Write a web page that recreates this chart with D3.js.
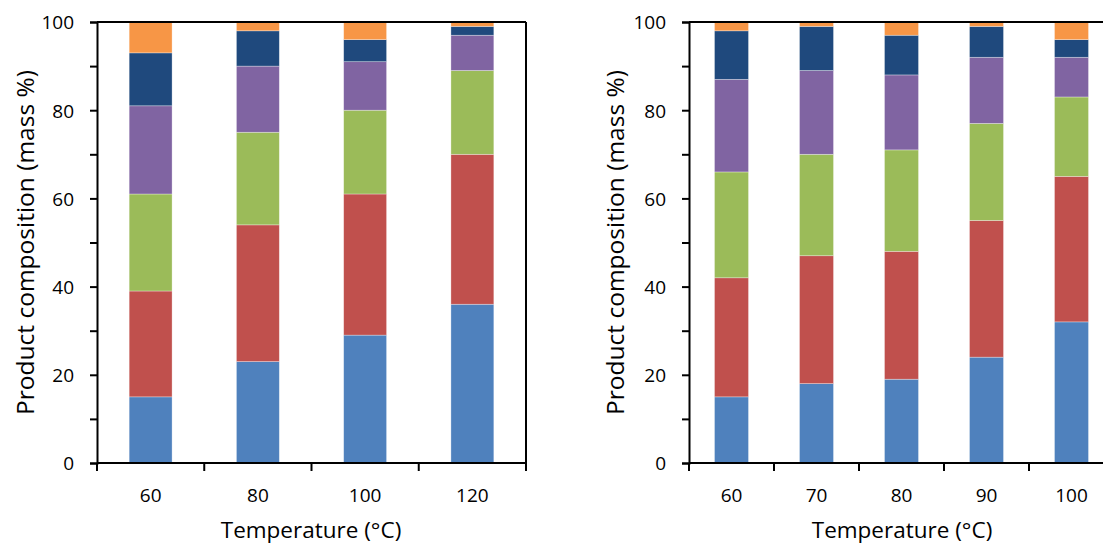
<!DOCTYPE html>
<html>
<head>
<meta charset="utf-8">
<script src="https://cdn.jsdelivr.net/npm/d3@7"></script>
<style>
  html, body { margin: 0; padding: 0; background: #fff; }
  svg { display: block; }
  text { font-family: "Open Sans", sans-serif; fill: #000; }
</style>
</head>
<body>
<svg id="chart" width="1103" height="545"></svg>
<script>
// ---- Data (mass %) ----
const seriesNames = ["Component 1", "Component 2", "Component 3", "Component 4", "Component 5", "Component 6"];
const seriesColors = ["#4F81BD", "#C0504D", "#9BBB59", "#8064A2", "#1F497D", "#F79646"];

const leftTemps = ["60", "80", "100", "120"];
const leftSeries1 = [15, 23, 29, 36];
const leftSeries2 = [24, 31, 32, 34];
const leftSeries3 = [22, 21, 19, 19];
const leftSeries4 = [20, 15, 11, 8];
const leftSeries5 = [12, 8, 5, 2];
const leftSeries6 = [7, 2, 4, 1];

const rightTemps = ["60", "70", "80", "90", "100"];
const rightSeries1 = [15, 18, 19, 24, 32];
const rightSeries2 = [27, 29, 29, 31, 33];
const rightSeries3 = [24, 23, 23, 22, 18];
const rightSeries4 = [21, 19, 17, 15, 9];
const rightSeries5 = [11, 10, 9, 7, 4];
const rightSeries6 = [2, 1, 3, 1, 4];

const yMajorTicks = [0, 20, 40, 60, 80, 100];
const yMinorTicks = [10, 30, 50, 70, 90];
const xTitle = "Temperature (°C)";
const yTitle = "Product composition (mass %)";

function buildRows(temps, seriesList) {
  return temps.map((t, i) => {
    const row = { temp: t };
    seriesNames.forEach((n, j) => { row[n] = seriesList[j][i]; });
    return row;
  });
}

const panels = [
  { temps: leftTemps, rows: buildRows(leftTemps, [leftSeries1, leftSeries2, leftSeries3, leftSeries4, leftSeries5, leftSeries6]),
    x0: 97, x1: 526, yTitleX: 34, xTitleX: 311 },
  { temps: rightTemps, rows: buildRows(rightTemps, [rightSeries1, rightSeries2, rightSeries3, rightSeries4, rightSeries5, rightSeries6]),
    x0: 689, x1: 1114, yTitleX: 624, xTitleX: 902 }
];

const svg = d3.select("#chart");
const yTop = 22, yBottom = 463;
const y = d3.scaleLinear().domain([0, 100]).range([yBottom, yTop]);
const stack = d3.stack().keys(seriesNames);

panels.forEach(p => {
  const g = svg.append("g");
  const x = d3.scaleBand().domain(p.temps).range([p.x0, p.x1]).paddingInner(0.6).paddingOuter(0.3);
  const stacked = stack(p.rows);

  // bars
  g.selectAll("g.series").data(stacked).join("g")
    .attr("class", "series")
    .attr("fill", (d, i) => seriesColors[i])
    .selectAll("rect").data(d => d).join("rect")
    .attr("x", d => x(d.data.temp))
    .attr("width", x.bandwidth())
    .attr("y", d => y(d[1]))
    .attr("height", d => y(d[0]) - y(d[1]))
    .attr("stroke", "rgba(255,255,255,0.45)")
    .attr("stroke-width", 0.7);

  // plot border (top and right)
  g.append("line").attr("x1", p.x0).attr("x2", p.x1).attr("y1", yTop).attr("y2", yTop)
    .attr("stroke", "#000").attr("stroke-width", 2);
  g.append("line").attr("x1", p.x1).attr("x2", p.x1).attr("y1", yTop).attr("y2", yBottom)
    .attr("stroke", "#000").attr("stroke-width", 2);

  // y axis major
  const yAxis = g.append("g").attr("transform", `translate(${p.x0},0)`)
    .call(d3.axisLeft(y).tickValues(yMajorTicks).tickSize(7).tickPadding(16).tickFormat(d3.format("d")));
  // y axis minor
  g.append("g").attr("transform", `translate(${p.x0},0)`)
    .call(d3.axisLeft(y).tickValues(yMinorTicks).tickSize(7).tickFormat(""))
    .select(".domain").remove();
  yAxis.selectAll("text").style("font-size", "19px").style("font-family", "'Open Sans', sans-serif").attr("dy", "0.36em");

  // x axis labels (centered on bands)
  const xAxis = g.append("g").attr("transform", `translate(0,${yBottom})`)
    .call(d3.axisBottom(x).tickSize(0).tickPadding(0));
  xAxis.select(".domain").remove();
  xAxis.selectAll("text").style("font-size", "19px").style("font-family", "'Open Sans', sans-serif")
    .attr("y", 39).attr("dy", 0);

  // x axis line and category-boundary ticks
  g.append("line").attr("x1", p.x0).attr("x2", p.x1).attr("y1", yBottom).attr("y2", yBottom)
    .attr("stroke", "#000").attr("stroke-width", 2);
  const edges = p.temps.map(t => x(t) + x.bandwidth() / 2 - x.step() / 2)
    .concat([x(p.temps[p.temps.length - 1]) + x.bandwidth() / 2 + x.step() / 2]);
  g.selectAll("line.xtick").data(edges).join("line").attr("class", "xtick")
    .attr("x1", d => d).attr("x2", d => d).attr("y1", yBottom).attr("y2", yBottom + 8)
    .attr("stroke", "#000").attr("stroke-width", 2);

  yAxis.select(".domain").attr("stroke-width", 2);
  g.selectAll(".tick line").attr("stroke-width", 2);

  // titles
  g.append("text").attr("x", p.xTitleX).attr("y", 538)
    .attr("text-anchor", "middle").style("font-size", "22.5px").text(xTitle);
  g.append("text").attr("transform", `translate(${p.yTitleX},${(yTop + yBottom) / 2}) rotate(-90)`)
    .attr("text-anchor", "middle").style("font-size", "24.5px").text(yTitle);
});
</script>
</body>
</html>
